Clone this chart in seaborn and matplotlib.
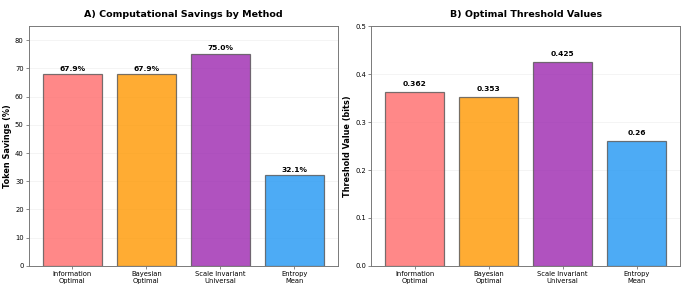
import matplotlib
matplotlib.use("Agg")
import matplotlib.pyplot as plt
import seaborn as sns
import pandas as pd

methods = ["Information\nOptimal", "Bayesian\nOptimal", "Scale Invariant\nUniversal", "Entropy\nMean"]
savings = [67.9, 67.9, 75.0, 32.1]
thresholds = [0.362, 0.353, 0.425, 0.26]
colors = ["#FF6B6B", "#FF9800", "#9C27B0", "#2196F3"]
savings_ticks = [0, 10, 20, 30, 40, 50, 60, 70, 80]
threshold_ticks = [0.0, 0.1, 0.2, 0.3, 0.4, 0.5]

sns.set_theme(style="white")
plt.rcParams['font.family'] = ['DejaVu Sans']
plt.rcParams['text.color'] = 'black'
plt.rcParams['axes.labelcolor'] = 'black'

df = pd.DataFrame({"method": methods, "savings": savings, "threshold": thresholds})

fig, axes = plt.subplots(1, 2, figsize=(14, 5.927), dpi=48.93)
fig.subplots_adjust(left=0.042, right=0.993, bottom=0.083, top=0.910, wspace=0.107)

def style(ax):
    ax.grid(axis='y', alpha=0.3, color='#cccccc', linewidth=1)
    ax.set_axisbelow(True)
    for s in ax.spines.values():
        s.set_visible(True)
        s.set_color('#777777')
        s.set_linewidth(1.4)
    ax.tick_params(axis='both', labelsize=10, colors='#555555', labelcolor='black',
                   length=4, width=1, left=True, bottom=True)
    ax.set_xlabel("")
    ax.set_xlim(-0.59, 3.59)

ax = axes[0]
sns.barplot(data=df, x="method", y="savings", hue="method", palette=colors, legend=False,
            saturation=1, alpha=0.8, edgecolor='#555555', linewidth=1.8, width=0.8, ax=ax)
ax.set_ylim(0, 85)
ax.set_yticks(savings_ticks)
ax.set_ylabel("Token Savings (%)", fontsize=12, fontweight='bold')
ax.set_title("A) Computational Savings by Method", fontsize=14, fontweight='bold', pad=14)
for i, v in enumerate(savings):
    ax.text(i, v + 1, f"{v:.1f}%", ha='center', va='bottom', fontsize=11, fontweight='bold')
style(ax)

ax = axes[1]
sns.barplot(data=df, x="method", y="threshold", hue="method", palette=colors, legend=False,
            saturation=1, alpha=0.8, edgecolor='#555555', linewidth=1.8, width=0.8, ax=ax)
ax.set_ylim(0, 0.5)
ax.set_yticks(threshold_ticks)
ax.set_ylabel("Threshold Value (bits)", fontsize=12, fontweight='bold')
ax.set_title("B) Optimal Threshold Values", fontsize=14, fontweight='bold', pad=14)
for i, v in enumerate(thresholds):
    ax.text(i, v + 0.01, f"{v:g}", ha='center', va='bottom', fontsize=11, fontweight='bold')
style(ax)

fig.savefig("out.png", dpi=48.93)
